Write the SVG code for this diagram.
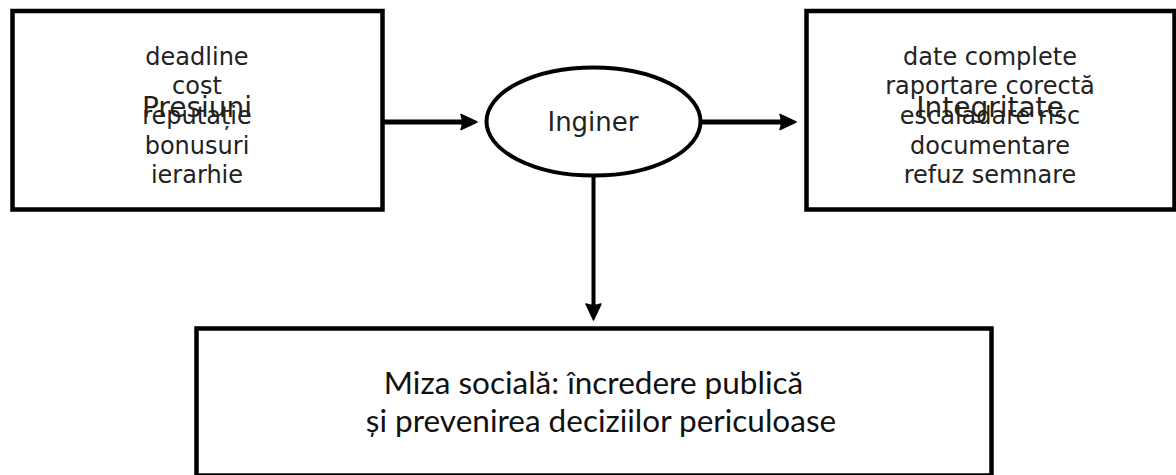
<svg xmlns="http://www.w3.org/2000/svg" width="1176" height="475" viewBox="0 0 1176 475">
<style>
.box{fill:#fff;stroke:#000;stroke-width:4.5}
.t{font-family:"DejaVu Sans",sans-serif;fill:#222;text-anchor:middle}
.s{font-size:24px}
.big{font-size:28px}
.b{font-family:Lato,"Open Sans",sans-serif;font-size:31.5px;fill:#111;text-anchor:middle}
.c{stroke:#000;fill:none}
</style>
<defs>
<marker id="ah" markerUnits="userSpaceOnUse" markerWidth="20" markerHeight="20" refX="2" refY="9" orient="auto">
<path d="M1,1.5 L17,9 L1,16.5 Q4,9 1,1.5 Z" fill="#000" stroke="#000" stroke-width="1.5" stroke-linejoin="round"/>
</marker>
</defs>
<rect width="1176" height="475" fill="#fff"/>
<g id="connectors">
<line class="c" x1="383" y1="122" x2="462" y2="122" stroke-width="5" marker-end="url(#ah)"/>
<line class="c" x1="701" y1="122" x2="781" y2="122" stroke-width="5" marker-end="url(#ah)"/>
<line class="c" x1="593.5" y1="176" x2="593.5" y2="305" stroke-width="4" marker-end="url(#ah)"/>
</g>
<g id="presiuni">
<rect class="box" x="12.5" y="11" width="370" height="198.5"/>
<text class="t big" x="197" y="117">Presiuni</text>
<text class="t s" x="197" y="65">deadline</text>
<text class="t s" x="197" y="94">cost</text>
<text class="t s" x="197" y="124">reputație</text>
<text class="t s" x="197" y="154">bonusuri</text>
<text class="t s" x="197" y="183">ierarhie</text>
</g>
<g id="integritate">
<rect class="box" x="806.5" y="11" width="368" height="198.5"/>
<text class="t big" x="990" y="117">Integritate</text>
<text class="t s" x="990" y="65">date complete</text>
<text class="t s" x="990" y="94">raportare corectă</text>
<text class="t s" x="990" y="124">escaladare risc</text>
<text class="t s" x="990" y="154">documentare</text>
<text class="t s" x="990" y="183">refuz semnare</text>
</g>
<g id="inginer">
<ellipse cx="593.5" cy="121.5" rx="107" ry="54" fill="#fff" stroke="#000" stroke-width="4"/>
<text class="t" x="593" y="131" font-size="26">Inginer</text>
</g>
<g id="miza">
<rect class="box" x="196.5" y="328.5" width="795" height="147"/>
<text class="b" x="593.5" y="394">Miza socială: încredere publică</text>
<text class="b" x="601" y="432">și prevenirea deciziilor periculoase</text>
</g>
</svg>
